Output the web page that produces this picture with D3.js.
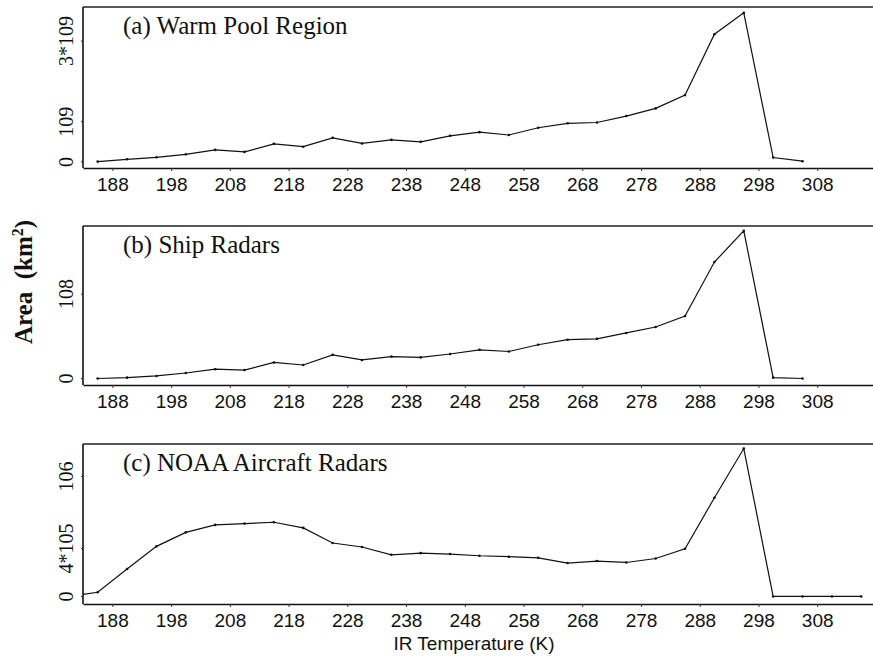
<!DOCTYPE html>
<html>
<head>
<meta charset="utf-8">
<script src="https://cdn.jsdelivr.net/npm/d3@7"></script>
<style>
body { margin: 0; background: #fff; }
.xaxis text { font-family: "Liberation Sans", Arial, sans-serif; font-size: 19px; fill: #111; }
.ylab { font-family: "Liberation Serif", "Times New Roman", serif; font-size: 20px; fill: #111; }
.panel-title { font-family: "Liberation Serif", "Times New Roman", serif; font-size: 25px; fill: #111; }
</style>
</head>
<body>
<script>
// temperatures (K) of the points in panels a and b
var tempsAB = [185.5, 190.5, 195.5, 200.5, 205.5, 210.5, 215.5, 220.5, 225.5, 230.5, 235.5, 240.5,
               245.5, 250.5, 255.5, 260.5, 265.5, 270.5, 275.5, 280.5, 285.5, 290.5, 295.5, 300.5, 305.5];
// temperatures of panel c
var tempsC = [180.5, 185.5, 190.5, 195.5, 200.5, 205.5, 210.5, 215.5, 220.5, 225.5, 230.5, 235.5, 240.5,
              245.5, 250.5, 255.5, 260.5, 265.5, 270.5, 275.5, 280.5, 285.5, 290.5, 295.5, 300.5, 305.5,
              310.5, 315.5];

// area (km2)
var warmPool = [0.01e9, 0.067e9, 0.117e9, 0.19e9, 0.30e9, 0.25e9, 0.45e9, 0.38e9, 0.60e9, 0.46e9, 0.55e9, 0.50e9,
                0.65e9, 0.74e9, 0.67e9, 0.85e9, 0.96e9, 0.98e9, 1.14e9, 1.33e9, 1.66e9, 3.17e9, 3.70e9, 0.11e9, 0.02e9];
var shipRadars = [0.0, 0.01e8, 0.03e8, 0.065e8, 0.11e8, 0.10e8, 0.19e8, 0.16e8, 0.28e8, 0.22e8, 0.26e8, 0.25e8,
                  0.29e8, 0.34e8, 0.32e8, 0.40e8, 0.46e8, 0.47e8, 0.54e8, 0.61e8, 0.74e8, 1.38e8, 1.75e8, 0.01e8, 0.0];
var noaaRadars = [0, 0.035e6, 0.228e6, 0.417e6, 0.534e6, 0.596e6, 0.607e6, 0.618e6, 0.571e6, 0.445e6, 0.412e6,
                  0.347e6, 0.361e6, 0.353e6, 0.339e6, 0.331e6, 0.322e6, 0.278e6, 0.295e6, 0.283e6, 0.316e6,
                  0.397e6, 0.822e6, 1.232e6, 0, 0, 0, 0];

var xTicks = [188, 198, 208, 218, 228, 238, 248, 258, 268, 278, 288, 298, 308];
var yTicksA = [0, 1e9, 3e9], yLabelsA = ["0", "109", "3*109"];
var yTicksB = [0, 1e8], yLabelsB = ["0", "108"];
var yTicksC = [0, 4e5, 1e6], yLabelsC = ["0", "4*105", "106"];

var panels = [
    {title: "(a) Warm Pool Region", x: tempsAB, y: warmPool, top: 7, bottom: 168,
     dom: [-0.149e9, 3.846e9], ticks: yTicksA, labels: yLabelsA},
    {title: "(b) Ship Radars", x: tempsAB, y: shipRadars, top: 226, bottom: 385,
     dom: [-0.077e8, 1.807e8], ticks: yTicksB, labels: yLabelsB},
    {title: "(c) NOAA Aircraft Radars", x: tempsC, y: noaaRadars, top: 444, bottom: 604,
     dom: [-0.063e6, 1.27e6], ticks: yTicksC, labels: yLabelsC}
];

var W = 873, H = 658;
var left = 83, right = 873;

var svg = d3.select("body").append("svg")
    .attr("width", W)
    .attr("height", H);

var xScale = d3.scaleLinear()
    .domain([183, 317.5])
    .range([left, right]);

panels.forEach(function(p, i) {
    var yScale = d3.scaleLinear().domain(p.dom).range([p.bottom, p.top]);
    var g = svg.append("g");

    // clip so the line stays inside the frame
    svg.append("clipPath").attr("id", "clip" + i)
        .append("rect")
        .attr("x", left).attr("y", p.top)
        .attr("width", right - left).attr("height", p.bottom - p.top);

    // frame: left, top and bottom lines (no right side)
    g.append("line").attr("x1", left).attr("x2", right).attr("y1", p.top).attr("y2", p.top)
        .attr("stroke", "#222").attr("stroke-width", 1.3);
    g.append("line").attr("x1", left).attr("x2", left).attr("y1", p.top).attr("y2", p.bottom)
        .attr("stroke", "#111").attr("stroke-width", 1.6);

    // x axis
    var xAxis = d3.axisBottom(xScale).tickValues(xTicks).tickSize(3).tickPadding(7).tickSizeOuter(0);
    g.append("g")
        .attr("class", "xaxis")
        .attr("transform", "translate(0," + p.bottom + ")")
        .call(xAxis)
        .call(function(a) {
            a.select(".domain").attr("stroke", "#111").attr("stroke-width", 1.6);
            a.selectAll(".tick line").attr("stroke", "#333");
        });

    // y ticks and rotated labels
    p.ticks.forEach(function(t, k) {
        g.append("line")
            .attr("x1", left - 2).attr("x2", left)
            .attr("y1", yScale(t)).attr("y2", yScale(t))
            .attr("stroke", "#333");
        g.append("text")
            .attr("class", "ylab")
            .attr("transform", "translate(73," + yScale(t) + ") rotate(-90)")
            .attr("text-anchor", "middle")
            .text(p.labels[k]);
    });

    // line
    var pts = p.x.map(function(t, k) { return {t: t, v: p.y[k]}; });
    var line = d3.line()
        .x(function(d) { return xScale(d.t); })
        .y(function(d) { return yScale(d.v); });

    g.append("path")
        .datum(pts)
        .attr("clip-path", "url(#clip" + i + ")")
        .attr("d", line)
        .attr("fill", "none")
        .attr("stroke", "#111")
        .attr("stroke-width", 1.2);

    g.selectAll(".pt")
        .data(pts.filter(function(d) { return d.t > 183; }))
        .enter().append("circle")
        .attr("class", "pt")
        .attr("cx", function(d) { return xScale(d.t); })
        .attr("cy", function(d) { return yScale(d.v); })
        .attr("r", 1.3)
        .attr("fill", "#111");

    // panel title
    g.append("text")
        .attr("class", "panel-title")
        .attr("x", 123)
        .attr("y", p.top + 27)
        .text(p.title);
});

// y axis title
var yTitle = svg.append("text")
    .attr("transform", "translate(32,282) rotate(-90)")
    .attr("text-anchor", "middle")
    .style("font-family", "'Liberation Serif', 'Times New Roman', serif")
    .style("font-size", "25px")
    .style("font-weight", "bold")
    .attr("fill", "#111");
yTitle.append("tspan").text("Area\u00a0\u00a0(km");
yTitle.append("tspan").attr("dy", -9).style("font-size", "16px").text("2");
yTitle.append("tspan").attr("dy", 9).text(")");

// x axis title
svg.append("text")
    .attr("x", 474)
    .attr("y", 650)
    .attr("text-anchor", "middle")
    .style("font-family", "'Liberation Sans', Arial, sans-serif")
    .style("font-size", "19px")
    .attr("fill", "#111")
    .text("IR Temperature (K)");
</script>
</body>
</html>
